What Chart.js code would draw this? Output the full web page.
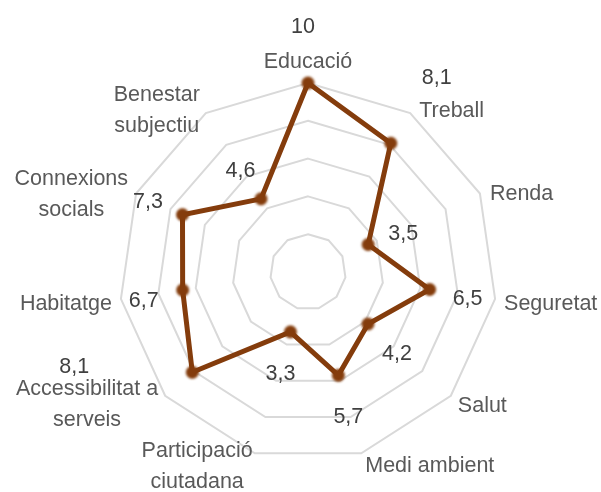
<!DOCTYPE html>
<html>
<head>
<meta charset="utf-8">
<script src="https://cdn.jsdelivr.net/npm/chart.js@4/dist/chart.umd.min.js"></script>
<style>
  html, body { margin: 0; padding: 0; background: #fff; }
  #wrap { width: 601px; height: 492px; position: relative; }
</style>
</head>
<body>
<div id="wrap"><canvas id="radar"></canvas></div>
<script>
// Categories (multi-line names as arrays), one value each, and the scale ticks
const categories = [
  ['Educació'], ['Treball'], ['Renda'], ['Seguretat'], ['Salut'], ['Medi ambient'],
  ['Participació', 'ciutadana'], ['Accessibilitat a', 'serveis'], ['Habitatge'],
  ['Connexions', 'socials'], ['Benestar', 'subjectiu']
];
const values = [10, 8.1, 3.5, 6.5, 4.2, 5.7, 3.3, 8.1, 6.7, 7.3, 4.6];
const scaleTicks = [0, 2, 4, 6, 8, 10];

const LINE_COLOR = '#843C0C';
const FONT = '21.5px "Liberation Sans", Arial, sans-serif';
const LINE_GAP = 31;

// name placement: [align, dx, dy] from the outer ring vertex (dy = first baseline)
const namePlace = [
  ['center', 0, -15], ['left', 9, 4], ['left', 10, 6.5], ['left', 9, 11],
  ['left', 7, 16], ['left', 4, 19], ['right', -2, 4], ['right', -7, -1],
  ['right', -9, 11], ['right', -8, -8.5], ['right', -6, -12]
];
// value label placement: [dx, dy] from the data point (text centre, baseline)
const valuePlace = [
  [-5, -50], [46, -59], [35, -4.5], [38, 15.5], [29, 36], [10, 48],
  [-10, 48], [-118, 1], [-39, 17], [-34.5, -7], [-20.5, -22]
];

// marker with slightly soft edge
function softDot(color, r) {
  const size = r * 2 + 8;
  const c = document.createElement('canvas');
  c.width = c.height = size;
  const g = c.getContext('2d');
  g.filter = 'blur(1.3px)';
  g.fillStyle = color;
  g.beginPath();
  g.arc(size / 2, size / 2, r, 0, Math.PI * 2);
  g.fill();
  return c;
}

const labelPlugin = {
  id: 'radarLabels',
  afterDatasetsDraw(chart) {
    const ctx = chart.ctx;
    const scale = chart.scales.r;
    const meta = chart.getDatasetMeta(0);
    ctx.save();
    ctx.font = FONT;
    ctx.textBaseline = 'alphabetic';
    ctx.textAlign = 'center';

    // category names around the outer ring
    ctx.fillStyle = '#595959';
    categories.forEach((lines, i) => {
      const p = scale.getPointPosition(i, scale.drawingArea);
      const [align, dx, dy] = namePlace[i];
      const w = Math.max(...lines.map(l => ctx.measureText(l).width));
      let cx = p.x + dx;
      if (align === 'left') cx += w / 2;
      else if (align === 'right') cx -= w / 2;
      lines.forEach((l, j) => ctx.fillText(l, cx, p.y + dy + j * LINE_GAP));
    });

    // values next to each point, decimal comma
    ctx.fillStyle = '#404040';
    meta.data.forEach((pt, i) => {
      const [dx, dy] = valuePlace[i];
      ctx.fillText(String(values[i]).replace('.', ','), pt.x + dx, pt.y + dy);
    });
    ctx.restore();
  }
};

const dot = softDot(LINE_COLOR, 6.5);

new Chart(document.getElementById('radar'), {
  type: 'radar',
  data: {
    labels: categories,
    datasets: [{
      data: values,
      borderColor: LINE_COLOR,
      borderWidth: 5,
      borderJoinStyle: 'miter',
      fill: false,
      pointStyle: dot,
      pointRadius: 6.5,
      pointBackgroundColor: LINE_COLOR,
      pointBorderWidth: 0,
      tension: 0
    }]
  },
  options: {
    responsive: true,
    maintainAspectRatio: false,
    animation: false,
    layout: { padding: { left: 119, right: 104, top: 83, bottom: 31 } },
    plugins: { legend: { display: false }, tooltip: { enabled: false } },
    scales: {
      r: {
        min: scaleTicks[0],
        max: scaleTicks[scaleTicks.length - 1],
        ticks: { stepSize: scaleTicks[1] - scaleTicks[0], display: false },
        grid: { color: '#d9d9d9', lineWidth: 2 },
        angleLines: { display: false },
        pointLabels: { display: false }
      }
    }
  },
  plugins: [labelPlugin]
});
</script>
</body>
</html>
